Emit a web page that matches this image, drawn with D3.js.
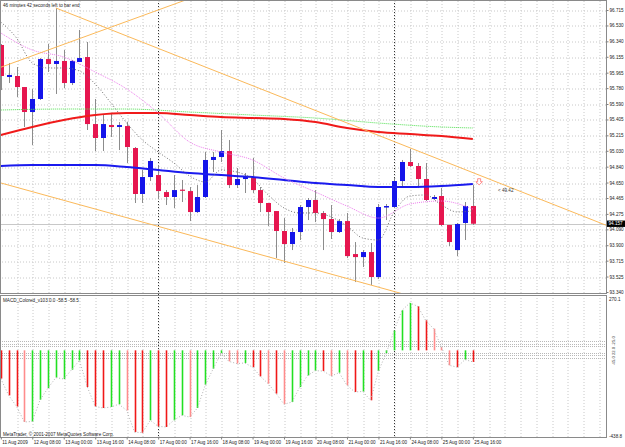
<!DOCTYPE html>
<html>
<head>
<meta charset="utf-8">
<script src="https://cdn.jsdelivr.net/npm/d3@7"></script>
<style>
  body { margin: 0; background: #fff; }
  svg { display: block; font-family: 'Liberation Sans', Arial, sans-serif; }
  .axis path { display: none; }
  .axis line { stroke: #808080; }
  .axis text { fill: #222; font-size: 4.6px; }
  .grid line { stroke: #c8c8c8; stroke-dasharray: 1,2; }
  .grid path { display: none; }
</style>
</head>
<body>
<div id="chart"></div>
<script>
// H4 bars, index 0 = 11 Aug 16:00 ... index 60 = 25 Aug 16:00
const timeIdx = [0, 4, 8, 12, 16, 20, 24, 28, 32, 36, 40, 44, 48, 52, 56, 60];
const timeLabels = ['11 Aug 2009', '12 Aug 08:00', '13 Aug 00:00', '13 Aug 16:00', '14 Aug 08:00',
    '17 Aug 00:00', '17 Aug 16:00', '18 Aug 08:00', '19 Aug 00:00', '19 Aug 16:00', '20 Aug 08:00',
    '21 Aug 00:00', '21 Aug 16:00', '24 Aug 08:00', '25 Aug 00:00', '25 Aug 16:00'];
const weekStarts = [20, 50];

const priceTicks = ['96.715', '96.530', '96.340', '96.155', '95.965', '95.780', '95.590', '95.405',
    '95.215', '95.030', '94.840', '94.650', '94.465', '94.275', '94.090', '93.900', '93.715', '93.525', '93.340'];
const macdTicks = ['270.1', '-438.8'];

const opens = [96.296, 95.913, 95.925, 95.793, 95.494, 95.650, 96.128, 96.069, 96.105, 95.841,
    96.093, 96.152, 95.350, 95.183, 95.338, 95.315, 95.326, 95.063, 94.513, 94.716,
    94.740, 94.536, 94.477, 94.565, 94.548, 94.297, 94.477, 94.920, 94.956, 95.027,
    94.620, 94.692, 94.704, 94.560, 94.405, 94.309, 94.070, 93.914, 94.058, 94.357,
    94.441, 94.285, 94.213, 94.058, 94.189, 93.794, 93.758, 93.818, 93.519, 94.351,
    94.357, 94.668, 94.896, 94.848, 94.692, 94.453, 94.489, 94.142, 93.842, 94.166, 94.369];
const highs = [96.308, 96.081, 96.033, 95.793, 95.769, 96.140, 96.308, 96.739, 96.236, 96.117,
    96.476, 96.332, 95.650, 95.470, 95.470, 95.374, 95.374, 95.075, 94.800, 94.944,
    94.860, 94.560, 94.740, 94.680, 94.596, 94.620, 95.015, 95.015, 95.279, 95.159,
    94.824, 94.764, 94.944, 94.596, 94.405, 94.309, 94.225, 94.106, 94.381, 94.465,
    94.560, 94.309, 94.381, 94.213, 94.285, 93.938, 93.842, 93.926, 94.393, 94.393,
    94.704, 94.920, 95.051, 94.884, 94.884, 94.501, 94.584, 94.142, 94.166, 94.417, 94.620];
const lows = [95.757, 95.841, 95.674, 95.315, 95.099, 95.638, 95.973, 95.710, 95.781, 95.817,
    96.093, 95.279, 95.027, 95.027, 95.195, 95.039, 94.884, 94.405, 94.405, 94.668,
    94.453, 94.381, 94.345, 94.417, 94.189, 94.285, 94.465, 94.776, 94.896, 94.584,
    94.584, 94.525, 94.525, 94.297, 94.130, 93.746, 93.687, 93.842, 93.962, 94.201,
    94.177, 93.842, 93.974, 94.046, 93.746, 93.459, 93.639, 93.424, 93.495, 94.201,
    94.345, 94.596, 94.836, 94.584, 94.429, 94.441, 94.130, 93.890, 93.770, 93.962, 94.142];
const closes = [95.925, 95.937, 95.793, 95.494, 95.650, 96.128, 96.069, 96.105, 95.841, 96.105,
    96.140, 95.350, 95.183, 95.350, 95.315, 95.338, 95.075, 94.513, 94.716, 94.908,
    94.548, 94.477, 94.560, 94.555, 94.297, 94.477, 94.920, 94.956, 95.027, 94.620,
    94.692, 94.716, 94.560, 94.405, 94.297, 94.070, 93.914, 94.058, 94.357, 94.441,
    94.285, 94.213, 94.058, 94.189, 93.770, 93.758, 93.818, 93.519, 94.357, 94.369,
    94.668, 94.896, 94.848, 94.692, 94.441, 94.477, 94.142, 93.938, 94.154, 94.369, 94.157];
const lastPrice = 94.157;

// moving averages
const maIdx = [0, 4, 8, 12, 16, 20, 24, 28, 32, 36, 40, 44, 48, 52, 56, 60];
const maRed = [95.219, 95.315, 95.398, 95.458, 95.482, 95.482, 95.458, 95.434, 95.422, 95.410,
    95.374, 95.303, 95.255, 95.231, 95.207, 95.171];
const maBlue = [94.848, 94.860, 94.860, 94.860, 94.836, 94.800, 94.764, 94.740, 94.716, 94.680,
    94.644, 94.620, 94.596, 94.596, 94.608, 94.632];
const maViolet = [96.440, 96.236, 96.152, 95.973, 95.770, 95.482, 95.135, 95.015, 94.920, 94.704,
    94.537, 94.369, 94.225, 94.393, 94.429, 94.333];
const greenIdx = [0, 8, 16, 24, 32, 40, 48, 56, 60];
const maGreen = [95.518, 95.530, 95.530, 95.494, 95.458, 95.422, 95.362, 95.315, 95.303];
const fastIdx = [0, 2, 4, 6, 8, 10, 12, 14, 16, 18, 20, 22, 24, 26, 28, 30, 32, 34, 36, 38,
    40, 42, 44, 46, 48, 50, 52, 54, 56, 58, 60];
const maFast = [96.571, 96.380, 96.081, 96.021, 96.021, 95.985, 95.829, 95.602, 95.363, 95.159,
    95.016, 94.884, 94.728, 94.657, 94.800, 94.776, 94.693, 94.501, 94.346, 94.286,
    94.286, 94.238, 94.130, 93.986, 93.962, 94.298, 94.489, 94.501, 94.382, 94.298, 94.310];

// trend lines: two anchors each [bar index, price]
const trendUp = [[0, 96.03], [23.5, 96.835]];
const trendDown = [[7, 96.739], [52, 95.066]];
const trendLow = [[0, 94.645], [47, 93.424]];

// MACD histogram, state: G rising, R falling, S falling (weak)
const macd = [-143, -228, -284, -363, -360, -250, -191, -138, -145, -98,
    -51, -186, -284, -292, -287, -273, -304, -414, -417, -354,
    -385, -388, -354, -329, -338, -292, -174, -93, -14, -56,
    -67, -64, -85, -132, -169, -219, -273, -262, -186, -127,
    -103, -105, -130, -113, -177, -211, -208, -253, -105, -14,
    101, 203, 240, 223, 152, 110, 17, -76, -85, -47, -58.5];
const macdState = ['R', 'R', 'R', 'S', 'G', 'G', 'G', 'G', 'G', 'G',
    'G', 'R', 'R', 'R', 'G', 'G', 'S', 'R', 'R', 'G',
    'R', 'R', 'G', 'G', 'S', 'G', 'G', 'G', 'G', 'S',
    'S', 'G', 'R', 'R', 'S', 'R', 'S', 'G', 'G', 'G',
    'G', 'R', 'S', 'G', 'S', 'R', 'G', 'R', 'G', 'G',
    'G', 'G', 'G', 'R', 'R', 'S', 'S', 'S', 'R', 'G', 'R'];
const macdLevels = [45, 34, 22, -14, -25, -37];

const width = 625;
const height = 447;
const right = 606;
const mainBottom = 293;
const subTop = 296;
const subBottom = 437;

const stateColor = { G: '#22e022', R: '#f01818', S: '#ff8c8c' };

function drawChart() {
    const svg = d3.select('#chart').append('svg')
        .attr('width', width)
        .attr('height', height);

    const xScale = d3.scaleLinear().domain([0, 76.9]).range([0.8, 605.8]);
    const yScale = d3.scaleLinear().domain([93.340, 96.715]).range([292, 10]);
    const mScale = d3.scaleLinear().domain([-438.8, 270.1]).range([subBottom, 297]);
    const px = (i) => Math.round(xScale(i)) + 0.5;

    const defs = svg.append('defs');
    defs.append('clipPath').attr('id', 'clipMain')
        .append('rect').attr('x', 0).attr('y', 0).attr('width', right).attr('height', mainBottom);
    defs.append('clipPath').attr('id', 'clipSub')
        .append('rect').attr('x', 0).attr('y', subTop).attr('width', right).attr('height', subBottom - subTop);

    // gridlines
    const gridIdx = d3.range(2, 77, 2);
    svg.append('g').attr('class', 'grid')
        .attr('transform', `translate(0, ${mainBottom})`)
        .call(d3.axisBottom(xScale).tickValues(gridIdx).tickFormat('').tickSize(-mainBottom))
        .selectAll('line').attr('transform', (d) => `translate(${px(d) - xScale(d)}, 0)`);
    svg.append('g').attr('class', 'grid')
        .attr('transform', `translate(0, ${subBottom})`)
        .call(d3.axisBottom(xScale).tickValues(gridIdx).tickFormat('').tickSize(-(subBottom - subTop)))
        .selectAll('line').attr('transform', (d) => `translate(${px(d) - xScale(d)}, 0)`);
    svg.append('g').attr('class', 'grid')
        .attr('transform', `translate(${right}, 0)`)
        .call(d3.axisLeft(yScale).tickValues(priceTicks.slice(0, -1).map(Number)).tickFormat('').tickSize(right))
        .selectAll('line').attr('transform', (d) => `translate(0, ${Math.round(yScale(d)) + 0.5 - yScale(d)})`);

    // MACD level lines
    svg.append('g').selectAll('line')
        .data(macdLevels)
        .join('line')
        .attr('x1', 0).attr('x2', right)
        .attr('y1', (d) => Math.round(mScale(d)) + 0.5)
        .attr('y2', (d) => Math.round(mScale(d)) + 0.5)
        .attr('stroke', '#b8b8b8')
        .attr('stroke-dasharray', '1,1');

    // bid line
    svg.append('line')
        .attr('x1', 0).attr('x2', right)
        .attr('y1', Math.round(yScale(lastPrice)) + 0.5)
        .attr('y2', Math.round(yScale(lastPrice)) + 0.5)
        .attr('stroke', '#c8c8c8');

    // weekly separators
    svg.append('g').selectAll('line')
        .data(weekStarts)
        .join('line')
        .attr('x1', (d) => px(d)).attr('x2', (d) => px(d))
        .attr('y1', 0).attr('y2', subBottom)
        .attr('stroke', '#303030')
        .attr('stroke-dasharray', '1,2');

    const main = svg.append('g').attr('clip-path', 'url(#clipMain)');

    // candles
    const candles = d3.range(opens.length).map((i) => ({
        i, o: opens[i], h: highs[i], l: lows[i], c: closes[i],
    }));
    main.append('g').selectAll('line')
        .data(candles)
        .join('line')
        .attr('x1', (d) => px(d.i)).attr('x2', (d) => px(d.i))
        .attr('y1', (d) => yScale(d.h)).attr('y2', (d) => yScale(d.l))
        .attr('stroke', '#8c8c8c');
    main.append('g').selectAll('rect')
        .data(candles)
        .join('rect')
        .attr('x', (d) => px(d.i) - 2.5)
        .attr('width', 5)
        .attr('y', (d) => yScale(Math.max(d.o, d.c)))
        .attr('height', (d) => Math.max(1.2, Math.abs(yScale(d.o) - yScale(d.c))))
        .attr('fill', (d) => (d.c < d.o ? '#e6164f' : '#1414ea'));

    // moving averages
    const maLine = (idx) => d3.line()
        .x((d, k) => xScale(idx[k]))
        .y((d) => yScale(d))
        .curve(d3.curveMonotoneX);

    main.append('path').datum(maGreen).attr('d', maLine(greenIdx))
        .attr('fill', 'none').attr('stroke', '#4ee04e').attr('stroke-dasharray', '1,1');
    main.append('path').datum(maRed).attr('d', maLine(maIdx))
        .attr('fill', 'none').attr('stroke', '#f01a1a').attr('stroke-width', 2);
    main.append('path').datum(maBlue).attr('d', maLine(maIdx))
        .attr('fill', 'none').attr('stroke', '#1a1aee').attr('stroke-width', 2);
    main.append('path').datum(maViolet).attr('d', maLine(maIdx))
        .attr('fill', 'none').attr('stroke', '#ee80ee').attr('stroke-dasharray', '1,1');
    main.append('path').datum(maFast).attr('d', maLine(fastIdx))
        .attr('fill', 'none').attr('stroke', '#707070').attr('stroke-dasharray', '1,2');

    // trend lines
    const extend = (pts, from, to) => {
        const [[i1, p1], [i2, p2]] = pts;
        const k = (p2 - p1) / (i2 - i1);
        return [[from, p1 + k * (from - i1)], [to, p1 + k * (to - i1)]];
    };
    const trends = [extend(trendUp, 0, 30), extend(trendDown, 7, 77), extend(trendLow, -1, 77)];
    main.append('g').selectAll('line')
        .data(trends)
        .join('line')
        .attr('x1', (d) => xScale(d[0][0])).attr('y1', (d) => yScale(d[0][1]))
        .attr('x2', (d) => xScale(d[1][0])).attr('y2', (d) => yScale(d[1][1]))
        .attr('stroke', '#fbb95a');

    // alert arrow and label
    const ax = xScale(60.8);
    const ay = yScale(94.66);
    main.append('path')
        .attr('d', `M${ax - 1.5},${ay - 3}h3v3h1.8l-3.3,3.2l-3.3,-3.2h1.8z`)
        .attr('fill', '#fff').attr('stroke', '#ff7070').attr('stroke-width', 0.8);
    main.append('text')
        .attr('x', xScale(63.2)).attr('y', yScale(94.56) + 1.6)
        .attr('font-size', '4.6px').attr('fill', '#333')
        .text('< 49.42');

    // MACD histogram
    const sub = svg.append('g').attr('clip-path', 'url(#clipSub)');
    sub.append('g').selectAll('line')
        .data(macd)
        .join('line')
        .attr('x1', (d, i) => px(i)).attr('x2', (d, i) => px(i))
        .attr('y1', mScale(0)).attr('y2', (d) => mScale(d))
        .attr('stroke', (d, i) => stateColor[macdState[i]])
        .attr('stroke-width', 1.6);
    sub.append('path').datum(macd)
        .attr('d', d3.line().x((d, i) => xScale(i)).y((d) => mScale(d)))
        .attr('fill', 'none').attr('stroke', '#b4b4b4').attr('stroke-dasharray', '1,2');

    // frames
    svg.append('rect').attr('x', 0.5).attr('y', 0.5).attr('width', right).attr('height', mainBottom)
        .attr('fill', 'none').attr('stroke', '#8a8a8a');
    svg.append('rect').attr('x', 0.5).attr('y', subTop - 0.5).attr('width', right).attr('height', subBottom - subTop + 1)
        .attr('fill', 'none').attr('stroke', '#8a8a8a');

    // price axis
    svg.append('g').attr('class', 'axis')
        .attr('transform', `translate(${right + 0.5}, 0)`)
        .call(d3.axisRight(yScale)
            .tickValues(priceTicks.map(Number))
            .tickFormat((d, i) => priceTicks[i])
            .tickSize(2).tickPadding(1));

    // last price box
    const ly = yScale(lastPrice);
    svg.append('rect').attr('x', right + 1).attr('y', ly - 3.2).attr('width', 18).attr('height', 6.4).attr('fill', '#000');
    svg.append('text').attr('x', right + 2.5).attr('y', ly + 1.6)
        .attr('font-size', '4.6px').attr('fill', '#fff').text(lastPrice.toFixed(3));

    // MACD scale labels
    svg.append('g').selectAll('text')
        .data(macdTicks)
        .join('text')
        .attr('x', right + 3)
        .attr('y', (d) => Math.min(Math.max(mScale(+d), 299.5), 436) + 1.6)
        .attr('font-size', '4.6px').attr('fill', '#222')
        .text((d) => d);
    svg.append('text')
        .attr('transform', `translate(${right + 9}, ${mScale(0)}) rotate(-90)`)
        .attr('text-anchor', 'middle')
        .attr('font-size', '4.2px').attr('fill', '#333')
        .text('45.0 22.0 -25.0');

    // time axis
    const tAxis = svg.append('g').attr('class', 'axis')
        .attr('transform', `translate(0, ${subBottom + 0.5})`)
        .call(d3.axisBottom(xScale)
            .tickValues(timeIdx)
            .tickFormat((d, i) => timeLabels[i])
            .tickSize(2).tickPadding(1.5));
    tAxis.selectAll('text').attr('text-anchor', 'start').attr('dx', 1);

    // captions
    svg.append('text').attr('x', 3).attr('y', 6.5)
        .attr('font-size', '4.6px').attr('fill', '#222')
        .text('46 minutes 42 seconds left to bar end');
    svg.append('text').attr('x', 3).attr('y', 301.8)
        .attr('font-size', '4.6px').attr('fill', '#222')
        .text('MACD_Colored_v103 0.0 -58.5 -58.5');
    svg.append('text').attr('x', 3).attr('y', 435.5)
        .attr('font-size', '4.6px').attr('fill', '#222')
        .text('MetaTrader, © 2001-2007 MetaQuotes Software Corp.');
}

drawChart();
</script>
</body>
</html>
